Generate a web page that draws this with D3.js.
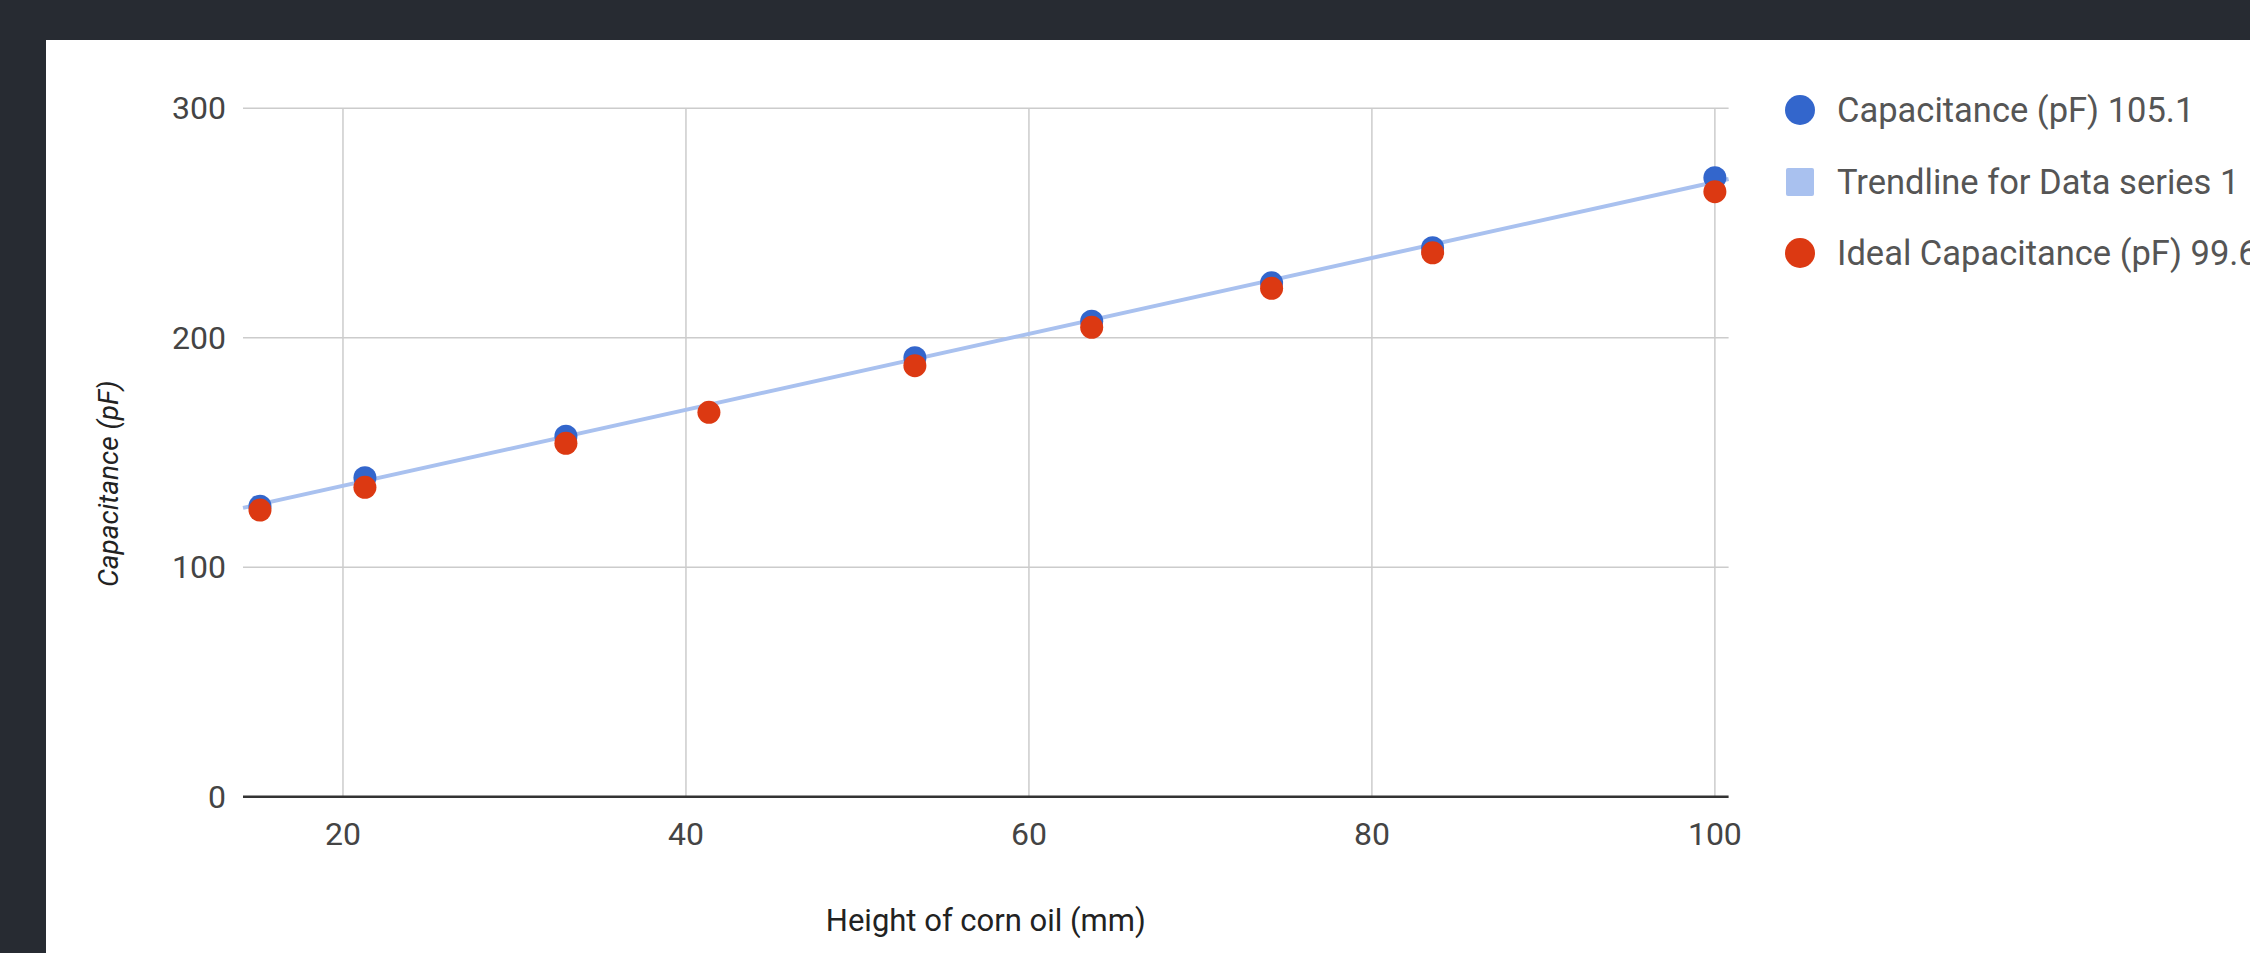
<!DOCTYPE html>
<html>
<head>
<meta charset="utf-8">
<script src="https://cdn.jsdelivr.net/npm/d3@7"></script>
<style>
  html, body { margin: 0; padding: 0; background: #272b32; overflow: hidden; }
  svg { display: block; }
</style>
</head>
<body>
<svg id="chart" width="2250" height="953"></svg>
<script>
// ---- data ----
const heights      = [15.16, 21.28, 33.0, 41.34, 53.35, 63.66, 74.15, 83.54, 100];
const capacitance  = [126.6, 139.0, 157.1, null, 191.3, 207.2, 223.9, 239.2, 269.7];
const idealCap     = [124.9, 134.8, 154.0, 167.5, 187.8, 204.5, 221.5, 237.0, 263.6];
const xTicks = [20, 40, 60, 80, 100];
const yTicks = [0, 100, 200, 300];
const legendLabels = ["Capacitance (pF) 105.1", "Trendline for Data series 1", "Ideal Capacitance (pF) 99.6"];
const xTitle = "Height of corn oil (mm)";
const yTitle = "Capacitance (pF)";

// ---- layout ----
const svg = d3.select("#chart");
const FONT = "Roboto, 'Noto Sans', sans-serif";
const blue = "#3366cc", red = "#dc3912", trendColor = "#a9c1ef";

svg.append("rect").attr("x", 0).attr("y", 0).attr("width", 2250).attr("height", 953).attr("fill", "#272b32");
svg.append("rect").attr("x", 46).attr("y", 40).attr("width", 2204).attr("height", 913).attr("fill", "#ffffff");

const x = d3.scaleLinear().domain([14.17, 100.8]).range([243, 1728.6]);
const y = d3.scaleLinear().domain([0, 300]).range([796.7, 108.2]);

// grid
const g = svg.append("g");
g.selectAll("line.vg").data(xTicks).join("line")
  .attr("x1", d => x(d)).attr("x2", d => x(d))
  .attr("y1", y(300)).attr("y2", y(0))
  .attr("stroke", "#cccccc").attr("stroke-width", 1.5);
g.selectAll("line.hg").data(yTicks.filter(d => d !== 0)).join("line")
  .attr("x1", x.range()[0]).attr("x2", x.range()[1])
  .attr("y1", d => y(d)).attr("y2", d => y(d))
  .attr("stroke", "#cccccc").attr("stroke-width", 1.5);

// baseline
g.append("line")
  .attr("x1", x.range()[0]).attr("x2", x.range()[1])
  .attr("y1", y(0)).attr("y2", y(0))
  .attr("stroke", "#333333").attr("stroke-width", 2.5);

// tick labels
g.selectAll("text.yt").data(yTicks).join("text")
  .attr("x", 226).attr("y", d => y(d)).attr("dy", "0.35em")
  .attr("text-anchor", "end")
  .attr("font-family", FONT).attr("font-size", 32).attr("fill", "#444444")
  .text(d => d);
g.selectAll("text.xt").data(xTicks).join("text")
  .attr("x", d => x(d)).attr("y", 845)
  .attr("text-anchor", "middle")
  .attr("font-family", FONT).attr("font-size", 32).attr("fill", "#444444")
  .text(d => d);

// axis titles
svg.append("text")
  .attr("x", (x.range()[0] + x.range()[1]) / 2).attr("y", 931)
  .attr("text-anchor", "middle")
  .attr("font-family", FONT).attr("font-size", 31).attr("fill", "#222222")
  .text(xTitle);
svg.append("text")
  .attr("transform", "translate(118,587) rotate(-90)")
  .attr("text-anchor", "start")
  .attr("font-family", FONT).attr("font-size", 28).attr("font-style", "italic").attr("fill", "#222222")
  .text(yTitle);

// trendline (least squares on measured series)
const pts = heights.map((h, i) => [h, capacitance[i]]).filter(p => p[1] != null);
const mx = d3.mean(pts, p => p[0]), my = d3.mean(pts, p => p[1]);
const slope = d3.sum(pts, p => (p[0] - mx) * (p[1] - my)) / d3.sum(pts, p => (p[0] - mx) ** 2);
const intercept = my - slope * mx;
const xd = x.domain();
svg.append("line")
  .attr("x1", x(xd[0])).attr("y1", y(intercept + slope * xd[0]))
  .attr("x2", x(xd[1])).attr("y2", y(intercept + slope * xd[1]))
  .attr("stroke", trendColor).attr("stroke-width", 4);

// points
svg.append("g").selectAll("circle")
  .data(pts)
  .join("circle")
  .attr("cx", d => x(d[0])).attr("cy", d => y(d[1])).attr("r", 11.5)
  .attr("fill", blue);
svg.append("g").selectAll("circle")
  .data(heights.map((h, i) => [h, idealCap[i]]))
  .join("circle")
  .attr("cx", d => x(d[0])).attr("cy", d => y(d[1])).attr("r", 11.5)
  .attr("fill", red);

// legend
const legY = [110, 182, 253];
const lg = svg.append("g");
lg.append("circle").attr("cx", 1800).attr("cy", legY[0]).attr("r", 15).attr("fill", blue);
lg.append("rect").attr("x", 1786).attr("y", legY[1] - 14).attr("width", 28).attr("height", 28).attr("rx", 2).attr("fill", trendColor);
lg.append("circle").attr("cx", 1800).attr("cy", legY[2]).attr("r", 15).attr("fill", red);
lg.selectAll("text").data(legendLabels).join("text")
  .attr("x", 1837).attr("y", (d, i) => legY[i]).attr("dy", "0.36em")
  .attr("font-family", FONT).attr("font-size", 34.5).attr("fill", "#555555")
  .text(d => d);
</script>
</body>
</html>
